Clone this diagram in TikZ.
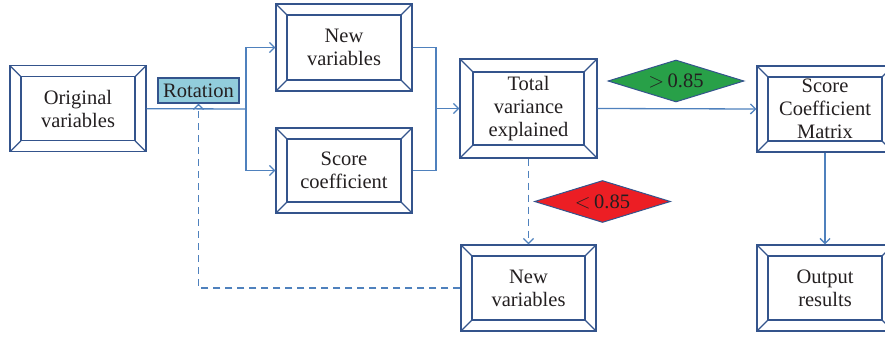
\documentclass[tikz,border=0pt]{standalone}
\usepackage{fontspec}
\setmainfont{Liberation Serif}
\usetikzlibrary{arrows.meta,shapes.geometric}
\definecolor{boxc}{RGB}{52,84,140}
\definecolor{linec}{RGB}{79,129,189}
\definecolor{txtc}{RGB}{35,31,32}
\definecolor{rotc}{RGB}{146,205,220}
\definecolor{greenc}{RGB}{40,160,72}
\definecolor{redc}{RGB}{236,30,36}
\tikzset{
  bevelbox/.style={draw=boxc, line width=1.3pt, minimum width=136pt, minimum height=86pt,
    align=center, inner sep=0pt, text=txtc,
    font=\fontsize{20.5}{23}\selectfont,
    path picture={
      \draw[boxc,line width=1.3pt]
        ([shift={(#1,-#1)}]path picture bounding box.north west) rectangle
        ([shift={(-#1,#1)}]path picture bounding box.south east);
      \draw[boxc,line width=1.3pt]
        (path picture bounding box.north west) -- ++(#1,-#1)
        (path picture bounding box.north east) -- ++(-#1,-#1)
        (path picture bounding box.south west) -- ++(#1,#1)
        (path picture bounding box.south east) -- ++(-#1,#1);
    }},
  bevelbox/.default=11pt,
  conn/.style={draw=linec, line width=1.3pt},
  arr/.style={-{Straight Barb[length=5pt,width=10pt,line width=1.3pt]}},
  dashconn/.style={conn, dash pattern=on 7pt off 5pt},
  gate/.style={diamond, aspect=3.2, draw=boxc, line width=1pt, inner sep=0pt,
    minimum width=136pt, minimum height=42pt, text=txtc,
    font=\fontsize{20.5}{23}\selectfont},
}
\begin{document}
\begin{tikzpicture}[x=1pt,y=-1pt]
\useasboundingbox (0,0) rectangle (885,339);
\node[bevelbox] (orig) at (78,108.7) {Original\\variables};
\node[draw=boxc, line width=1.2pt, fill=rotc, minimum width=81pt, minimum height=25pt, inner sep=0pt,
  text=txtc, font=\fontsize{20.5}{23}\selectfont] (rot) at (198.5,90.5) {Rotation};
\node[bevelbox, minimum height=87pt] (nv1) at (344,47.5) {New\\variables};
\node[bevelbox, minimum height=85pt] (sc) at (344,170.5) {Score\\coefficient};
\node[bevelbox=13pt, minimum width=137pt, minimum height=99pt] (tve) at (528.5,108.5) {Total\\variance\\explained};
\node[gate, fill=greenc] (gd) at (676,81) {$>$\,0.85};
\node[gate, fill=redc] (rd) at (602.5,201.5) {$<$\,0.85};
\node[bevelbox] (scm) at (825,109) {Score\\Coefficient\\Matrix};
\node[bevelbox] (out) at (825,288) {Output\\results};
\node[bevelbox, minimum width=135pt] (nv2) at (528.5,288) {New\\variables};

\coordinate (split) at (246,109);
\coordinate (merge) at (436,108.5);
\draw[conn] (orig.east) -- (split);
\draw[conn,arr] (split) |- (nv1.west);
\draw[conn,arr] (split) |- (sc.west);
\draw[conn] (nv1.east) -| (merge);
\draw[conn] (sc.east) -| (merge);
\draw[conn,arr] (merge) -- (tve.west);
\draw[conn,arr] (tve.east) -- (scm.west);
\draw[conn,arr] (scm.south) -- (out.north);
\draw[dashconn,arr] (tve.south) -- (nv2.north);
\draw[dashconn,arr] (nv2.west) -| (rot.south);
\end{tikzpicture}
\end{document}
